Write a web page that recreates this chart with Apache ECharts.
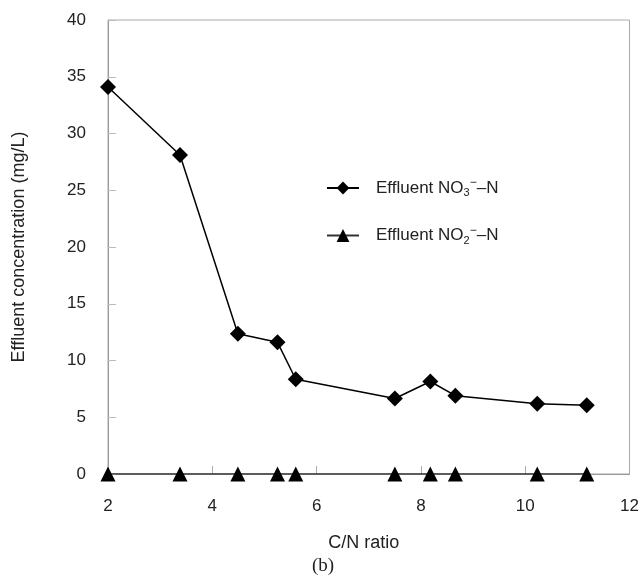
<!DOCTYPE html>
<html>
<head>
<meta charset="utf-8">
<script src="https://cdn.jsdelivr.net/npm/echarts@6/dist/echarts.min.js"></script>
<style>html,body{margin:0;padding:0;background:#fff}#c{width:642px;height:583px}</style>
</head>
<body>
<div id="c"></div>
<script>
const cnRatio = [2.0, 3.38, 4.49, 5.25, 5.60, 7.50, 8.18, 8.66, 10.23, 11.18];
const no3 = [34.1, 28.1, 12.35, 11.6, 8.35, 6.65, 8.15, 6.9, 6.2, 6.05];
const no2 = [0, 0, 0, 0, 0, 0, 0, 0, 0, 0];
const xTicks = [2, 4, 6, 8, 10, 12];
const yTicks = [0, 5, 10, 15, 20, 25, 30, 35, 40];

const font = 'Liberation Sans, Arial, sans-serif';
const chart = echarts.init(document.getElementById('c'));
const pairs = (xs, ys) => xs.map((x, i) => [x, ys[i]]);
chart.setOption({
  animation: false,
  grid: { left: 108, right: 8, top: 20, bottom: 109, show: true, borderColor: '#aaa', borderWidth: 1, backgroundColor: 'transparent' },
  xAxis: {
    type: 'value', min: xTicks[0], max: xTicks[xTicks.length - 1], interval: 2,
    name: 'C/N ratio', nameLocation: 'middle', nameGap: 60,
    nameTextStyle: { fontFamily: font, fontSize: 18, color: '#222', padding: [0, 10, 0, 0] },
    axisLine: { show: true, lineStyle: { color: '#999', width: 1 } },
    axisTick: { show: true, inside: true, length: 8, lineStyle: { color: '#aaa' } },
    axisLabel: { fontFamily: font, fontSize: 17, color: '#222', margin: 24 },
    splitLine: { show: false }
  },
  yAxis: {
    type: 'value', min: yTicks[0], max: yTicks[yTicks.length - 1], interval: 5,
    name: 'Effluent concentration (mg/L)', nameLocation: 'middle', nameGap: 80,
    nameTextStyle: { fontFamily: font, fontSize: 18, color: '#222' },
    axisLine: { show: true, lineStyle: { color: '#999', width: 1 } },
    axisTick: { show: true, inside: true, length: 8, lineStyle: { color: '#bbb' } },
    axisLabel: { fontFamily: font, fontSize: 17, color: '#222', margin: 22 },
    splitLine: { show: false }
  },
  legend: {
    orient: 'vertical', left: 321, top: 172, itemGap: 26,
    itemWidth: 32, itemHeight: 16,
    textStyle: {
      fontFamily: font, fontSize: 17, color: '#222', padding: [0, 0, 0, 12],
      rich: {
        n: { fontFamily: font, fontSize: 17, color: '#222' },
        sub: { fontFamily: font, fontSize: 11, color: '#222', padding: [10, 0, 0, 0] },
        sup: { fontFamily: font, fontSize: 12, color: '#222', padding: [0, 0, 10, 0] }
      }
    },
    formatter: function (name) {
      return name === 'no3' ? '{n|Effluent NO}{sub|3}{sup|\u2212}{n|\u2013N}' : '{n|Effluent NO}{sub|2}{sup|\u2212}{n|\u2013N}';
    },
    data: ['no3', 'no2']
  },
  series: [
    {
      name: 'no3', type: 'line', data: pairs(cnRatio, no3),
      symbol: 'diamond', symbolSize: 16,
      lineStyle: { color: '#000', width: 1.5 }, itemStyle: { color: '#000' }, z: 3
    },
    {
      name: 'no2', type: 'line', data: pairs(cnRatio, no2),
      symbol: 'triangle', symbolSize: 15,
      lineStyle: { color: '#333', width: 1.5 }, itemStyle: { color: '#000' }, z: 4
    }
  ],
  graphic: [{
    type: 'text', left: 312, top: 557,
    style: { text: '(b)', fontFamily: 'Liberation Serif, Times New Roman, serif', fontSize: 19, fill: '#222' }
  }]
});
</script>
</body>
</html>
